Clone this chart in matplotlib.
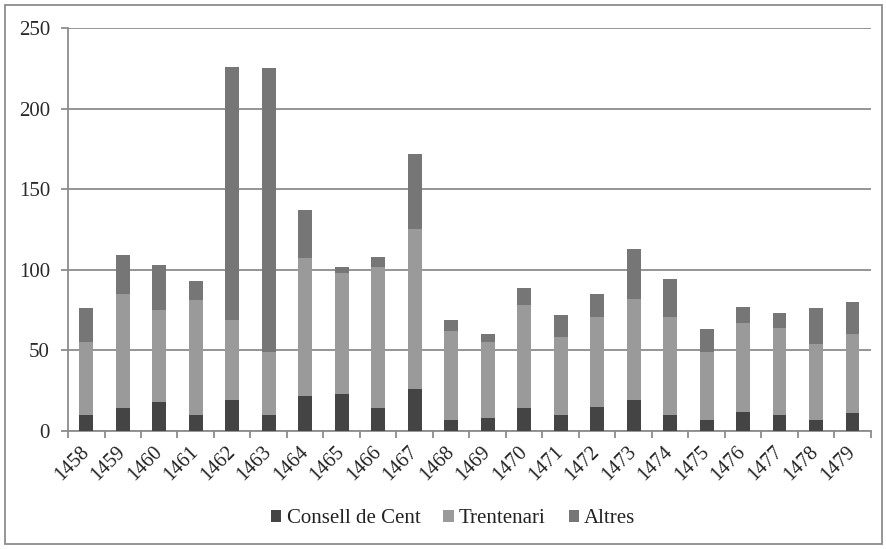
import numpy as np
import matplotlib
matplotlib.use("Agg")
import matplotlib.pyplot as plt
from matplotlib.patches import Rectangle

years = [str(y) for y in range(1458, 1480)]
consell = [10, 14, 18, 10, 19, 10, 22, 23, 14, 26, 7, 8, 14, 10, 15, 19, 10, 7, 12, 10, 7, 11]
trentenari = [45, 71, 57, 71, 50, 39, 85, 75, 88, 99, 55, 47, 64, 48, 56, 63, 61, 42, 55, 54, 47, 49]
altres = [21, 24, 28, 12, 157, 176, 30, 4, 6, 47, 7, 5, 11, 14, 14, 31, 23, 14, 10, 9, 22, 20]

plt.rcParams['font.family'] = ['Liberation Serif', 'DejaVu Serif']

fig = plt.figure(figsize=(8.87, 5.49), dpi=100)
ax = fig.add_axes([0.0767, 0.215, 0.905, 0.734])

x = np.arange(len(years))
w = 0.38
c1 = np.array(consell)
c2 = np.array(trentenari)
c3 = np.array(altres)
ax.bar(x, c1, w, color='#444444', label='Consell de Cent', zorder=3)
ax.bar(x, c2, w, bottom=c1, color='#9a9a9a', label='Trentenari', zorder=3)
ax.bar(x, c3, w, bottom=c1 + c2, color='#767676', label='Altres', zorder=3)

ax.set_xlim(-0.5, len(years) - 0.5)
ax.set_ylim(0, 250)
ax.set_yticks(range(0, 251, 50))
ax.yaxis.grid(True, color='#8c8c8c', linewidth=1.3)
ax.set_axisbelow(True)

for s in ['top', 'right']:
    ax.spines[s].set_visible(False)
for s in ['left', 'bottom']:
    ax.spines[s].set_color('#8c8c8c')
    ax.spines[s].set_linewidth(1.3)

# tick marks between the categories, labels under the bars
ax.set_xticks(np.append(x - 0.5, len(years) - 0.5), minor=True)
ax.set_xticks(x)
ax.set_xticklabels(years, rotation=45, ha='right', va='center', rotation_mode='anchor')
ax.tick_params(axis='x', which='major', length=0, pad=13, labelsize=14.5)
ax.tick_params(axis='x', which='minor', length=5, color='#8c8c8c', width=1.3)
ax.tick_params(axis='y', length=5, color='#8c8c8c', width=1.3, labelsize=15, pad=8,
               labelcolor='#2a2a2a')
for lab in ax.get_xticklabels():
    lab.set_color('#222222')

leg = fig.legend(loc='center', bbox_to_anchor=(0.511, 0.055), ncol=3, frameon=False,
                 fontsize=15, handlelength=0.5, handleheight=0.5, handletextpad=0.25,
                 columnspacing=1.1)
for t in leg.get_texts():
    t.set_color('#222222')

fig.patches.append(Rectangle((0.006, 0.009), 0.988, 0.982, transform=fig.transFigure,
                             fill=False, edgecolor='#8c8c8c', linewidth=1.3))

fig.savefig('out.png', dpi=100)
